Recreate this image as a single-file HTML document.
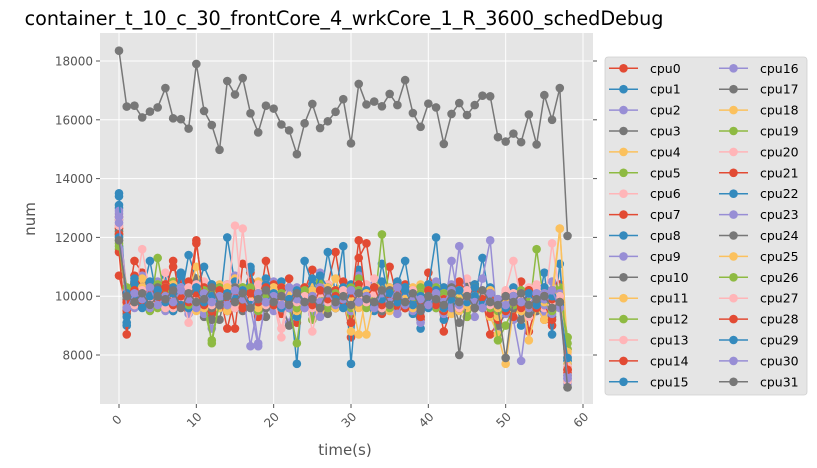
<!DOCTYPE html>
<html><head><meta charset="utf-8"><style>
body{margin:0;background:#fff;}
svg{display:block;font-family:"DejaVu Sans","Liberation Sans",sans-serif;}
</style></head><body>
<svg id="chart" width="817" height="468" xmlns="http://www.w3.org/2000/svg">
<text x="344" y="25" font-size="19.2" text-anchor="middle" fill="#000">container_t_10_c_30_frontCore_4_wrkCore_1_R_3600_schedDebug</text>
<rect x="100" y="33" width="493" height="371" fill="#E5E5E5"/>
<g id="grid"></g><g id="series"></g><g id="axes"></g>
<text x="345" y="455" font-size="15" text-anchor="middle" fill="#555">time(s)</text>
<text x="0" y="0" font-size="15" text-anchor="middle" fill="#555" transform="translate(35,219) rotate(-90)">num</text>
<rect x="605" y="57" width="202" height="338" rx="3" fill="#E5E5E5" stroke="#d0d0d0" stroke-width="0.8"/>
<g id="legend"></g>
</svg>
<script>
const NS="http://www.w3.org/2000/svg";
const colors=["#E24A33","#348ABD","#988ED5","#777777","#FBC15E","#8EBA42","#FFB5B8"];
const xTicks=[0,10,20,30,40,50,60];
const yTicks=[8000,10000,12000,14000,16000,18000];
const cpu17=[18350,16450,16480,16080,16280,16420,17080,16050,16020,15700,17900,16300,15820,14980,17320,16860,17420,16220,15570,16480,16380,15840,15640,14830,15880,16540,15720,15950,16270,16700,15200,17220,16520,16620,16460,16880,16500,17350,16230,15760,16550,16420,15180,16200,16570,16160,16500,16820,16800,15410,15260,15530,15240,16180,15160,16840,16000,17080,12050];
// other cpus, in hundreds
const others=[
[107,96,112,108,101,99,104,110,105,95,118,100,92,97,103,89,111,108,96,112,100,94,106,91,102,109,97,104,115,99,86,113,118,101,94,110,99,104,97,92,108,101,88,96,105,93,104,99,87,91,101,96,105,88,97,92,90,104,75],
[135,90,105,101,112,98,107,102,99,114,106,95,101,96,120,104,97,110,93,106,101,98,103,77,112,104,99,115,101,117,77,109,103,95,111,98,104,112,96,89,103,120,92,101,96,104,99,113,98,92,96,103,90,99,95,108,87,111,79],
[128,97,103,107,99,105,96,101,108,94,102,97,89,101,95,107,99,103,84,98,105,96,91,103,100,94,108,102,96,99,93,107,99,104,95,101,97,103,98,91,99,105,94,112,97,101,93,106,119,89,95,92,78,98,102,94,105,99,72],
[126,94,101,104,97,102,99,95,103,98,106,93,96,92,104,99,95,101,98,93,103,97,90,100,96,102,99,94,101,97,91,104,97,100,95,103,98,96,101,93,98,102,95,99,91,104,96,100,97,90,94,99,92,98,95,100,93,101,71],
[123,101,98,106,100,104,97,103,99,102,110,98,95,104,100,106,102,99,105,96,101,104,98,93,102,97,95,101,106,99,88,103,87,99,104,95,102,98,96,101,99,97,103,94,101,98,96,100,93,87,77,95,101,85,96,92,98,123,82],
[116,99,104,98,95,113,99,105,97,101,103,96,85,99,103,97,101,105,95,102,100,98,96,84,103,92,105,99,97,101,94,106,100,96,121,98,103,101,97,100,104,99,96,102,98,93,101,97,99,85,90,96,101,94,116,97,99,103,86],
[125,103,99,116,101,97,108,100,103,91,99,105,98,101,97,124,96,102,99,104,98,86,101,97,103,88,99,104,97,101,95,102,98,106,99,97,103,99,101,96,104,98,103,97,101,106,99,101,95,97,102,112,99,93,104,96,118,101,73],
[115,87,107,103,99,97,101,112,98,105,102,99,94,103,98,101,96,105,93,99,104,97,101,95,100,97,103,99,96,105,91,99,103,97,101,98,96,102,99,93,101,97,95,99,103,96,98,100,94,92,96,93,99,95,101,97,92,99,76],
[130,91,102,99,105,97,103,99,108,96,101,110,104,99,95,102,98,109,96,103,99,105,100,93,101,98,107,103,100,101,96,102,99,103,97,100,105,98,94,101,100,96,103,98,97,101,104,99,96,94,98,96,101,97,99,103,97,100,78],
[124,99,96,102,98,101,95,99,103,97,99,94,101,97,100,96,102,83,98,101,95,99,103,96,98,101,93,100,97,102,95,99,101,96,100,97,94,99,95,98,102,96,99,104,97,95,101,98,99,96,94,99,96,95,98,97,94,96,70],
[121,100,98,103,96,101,99,97,102,100,96,98,92,100,103,99,101,97,100,96,98,102,99,95,97,100,101,98,96,99,97,101,98,100,96,98,101,97,99,95,100,98,96,101,97,99,96,97,98,95,97,96,98,94,97,99,96,100,73],
[122,96,100,98,102,96,100,104,97,99,95,101,98,96,100,104,98,101,96,99,103,97,101,95,99,103,98,96,102,97,100,96,101,99,97,103,99,100,96,104,98,101,97,99,95,101,98,97,100,93,97,99,95,101,96,98,102,96,79],
[119,98,101,97,103,99,96,101,98,102,97,100,84,98,101,97,103,99,95,101,98,103,96,100,97,101,99,96,102,98,95,101,97,103,99,96,100,98,101,97,99,103,96,100,98,95,102,99,97,94,99,97,101,96,100,98,95,102,82],
[124,102,97,100,99,103,98,100,96,101,104,97,100,98,102,96,100,98,104,97,101,99,96,102,98,100,103,97,99,101,97,100,104,98,96,101,99,97,103,98,100,96,101,98,102,97,99,101,98,96,100,98,96,103,97,101,99,98,80],
[127,95,103,99,101,97,104,96,102,98,100,103,95,101,89,100,96,103,99,97,102,99,101,97,103,98,96,101,99,102,96,104,99,97,101,98,103,96,100,99,97,102,98,101,96,100,103,97,99,98,95,100,97,102,96,99,101,97,74],
[131,93,106,100,104,98,102,95,107,101,99,96,104,98,102,105,97,101,99,104,98,102,96,101,99,106,98,103,100,97,104,99,102,97,105,100,98,103,97,101,104,98,100,96,102,99,101,98,103,96,99,101,98,97,100,103,96,99,77],
[129,97,100,103,96,102,98,101,99,96,103,98,101,97,100,98,102,96,83,100,98,103,99,96,101,98,100,102,97,99,95,102,98,101,96,100,103,97,99,98,101,97,100,99,96,102,98,100,97,95,99,97,101,96,99,98,97,101,72],
[120,99,103,97,101,98,100,96,102,99,97,101,98,100,95,103,99,97,101,98,103,96,100,98,101,97,99,103,96,100,98,101,99,97,102,98,100,96,103,99,97,101,98,100,102,96,99,101,97,94,98,101,96,100,97,99,101,123,81],
[117,100,97,102,98,104,97,103,99,101,98,102,96,103,97,100,103,98,101,97,100,102,98,96,101,99,103,97,100,98,96,102,99,103,97,101,98,100,97,103,99,96,101,98,100,97,103,99,96,95,99,97,102,99,96,101,98,100,84],
[126,102,99,101,97,100,103,96,100,98,102,96,99,101,104,98,123,100,97,102,99,89,101,98,96,100,102,98,101,97,100,99,103,97,100,98,102,96,99,101,98,100,96,102,97,101,99,98,100,96,98,101,97,99,102,98,96,99,71],
[123,98,101,99,103,97,101,99,97,102,119,98,100,97,101,99,96,102,98,100,97,103,99,96,101,98,100,97,102,99,97,119,98,101,97,100,103,96,99,101,97,100,98,102,96,99,101,97,100,96,98,100,97,101,96,99,102,98,75],
[134,96,104,98,102,100,97,103,99,96,101,98,103,97,102,99,101,97,100,103,98,101,96,100,99,102,97,101,98,103,97,100,102,98,101,97,99,103,98,100,96,102,99,97,101,98,103,96,100,97,99,98,101,97,100,98,99,97,78],
[127,101,98,100,102,97,101,98,103,99,100,97,102,98,100,96,101,99,97,102,98,100,96,101,99,97,103,98,100,97,101,99,98,102,97,100,98,101,97,99,102,98,100,96,117,98,100,97,101,96,99,98,100,99,97,101,98,99,73],
[122,99,102,98,100,103,98,101,97,100,102,99,96,101,98,103,97,100,99,96,101,98,102,97,100,98,101,99,96,102,98,101,99,97,100,102,98,96,101,99,97,100,98,103,80,100,97,101,98,96,79,99,97,101,98,100,97,99,69],
[121,97,100,103,98,101,99,97,102,98,101,96,100,98,103,97,101,99,96,100,102,98,101,97,99,102,98,100,96,101,99,87,101,98,100,97,102,99,96,101,98,100,97,99,101,97,100,98,102,96,99,98,101,97,100,98,96,99,77],
[118,103,98,101,99,96,102,98,100,97,101,99,102,98,97,101,99,103,98,100,97,101,98,96,102,99,100,97,101,98,103,99,96,101,98,100,102,97,99,101,98,97,100,102,98,99,96,101,98,97,100,99,97,98,101,99,96,100,86],
[124,100,97,102,98,100,96,101,99,103,98,100,97,101,99,96,102,98,100,97,101,99,103,98,100,96,101,98,99,102,97,100,98,101,96,100,99,97,102,98,101,97,99,100,96,102,98,100,97,99,101,98,100,97,103,99,97,100,76],
[121,98,102,97,101,99,103,97,100,98,101,97,99,102,98,100,96,101,98,103,97,100,99,101,98,97,102,99,100,97,101,98,100,103,97,99,101,96,100,98,102,97,99,101,98,100,96,99,101,97,100,98,96,102,98,100,99,98,75],
[120,101,99,96,100,102,98,101,97,99,103,98,100,97,101,99,102,97,100,98,101,96,99,102,98,100,97,101,99,96,102,98,100,97,99,101,98,102,97,100,98,101,96,99,102,98,100,97,101,99,96,100,98,101,97,99,100,97,79],
[125,96,101,99,103,97,100,98,102,99,96,101,98,100,97,102,99,96,101,98,100,97,103,99,96,100,98,101,97,99,102,98,100,96,101,98,103,97,100,99,97,101,98,102,97,100,98,96,101,99,97,100,98,97,101,99,102,96,72],
[119,100,98,101,97,100,99,102,96,101,98,99,103,97,100,98,101,96,99,102,98,100,97,101,98,99,96,102,98,100,97,101,99,98,102,97,100,98,101,96,100,99,97,101,98,100,96,102,98,97,100,98,101,97,99,100,96,98,69]
];
const X0=100,X1=593,Y0=33,Y1=404;
function xs(v){return 119+(v-0)*(583-119)/60;}
function ys(v){return 355-(v-8000)*(355-61)/10000;}
function mk(tag,attrs,parent){const e=document.createElementNS(NS,tag);for(const k in attrs)e.setAttribute(k,attrs[k]);parent.appendChild(e);return e;}
const grid=document.getElementById('grid'),axes=document.getElementById('axes'),ser=document.getElementById('series'),leg=document.getElementById('legend');
xTicks.forEach(t=>{const x=xs(t);
 const g=mk('line',{x1:x,x2:x,y1:Y0,y2:Y1,stroke:'#fff','stroke-width':1},grid);
 
 mk('line',{x1:x,x2:x,y1:Y1,y2:Y1+4,stroke:'#555'},axes);
 const tx=mk('text',{x:x-2,y:Y1+20,'font-size':12,fill:'#555','text-anchor':'middle',transform:`rotate(-45 ${x-2} ${Y1+16})`},axes);
 tx.textContent=t;
 
});
yTicks.forEach(t=>{const y=ys(t);
 const g=mk('line',{x1:X0,x2:X1,y1:y,y2:y,stroke:'#fff','stroke-width':1},grid);
 
 mk('line',{x1:X0-4,x2:X0,y1:y,y2:y,stroke:'#555'},axes);
 mk('line',{x1:X1,x2:X1+4,y1:y,y2:y,stroke:'#555'},axes);
 const tx=mk('text',{x:X0-7,y:y+4.5,'font-size':12,fill:'#555','text-anchor':'end'},axes);
 tx.textContent=t;
 
});
const all=[];
for(let i=0,k=0;i<32;i++){ if(i===17) all.push(cpu17); else all.push(others[k++].map(v=>v*100)); }
function drawSeries(i){
 const vals=all[i],c=colors[i%7];
 const g=mk('g',{},ser);
 
 
 mk('polyline',{points:vals.map((v,j)=>xs(j)+','+ys(v)).join(' '),fill:'none',stroke:c,'stroke-width':1.5},g);
 vals.forEach((v,j)=>{const p=mk('circle',{cx:xs(j),cy:ys(v),r:4.3,fill:c},g);
  });
}
for(let i=0;i<32;i++) if(i!==17) drawSeries(i);
drawSeries(17);
for(let i=0;i<32;i++){
 const col=Math.floor(i/16),row=i%16,c=colors[i%7];
 const lx=col?719:609,tx=col?760:650,y=68.3+row*20.9;
 const g=mk('g',{},leg);
 
 
 mk('line',{x1:lx,x2:lx+29,y1:y,y2:y,stroke:c,'stroke-width':1.5},g);
 mk('circle',{cx:lx+14.5,cy:y,r:4.3,fill:c},g);
 const t=mk('text',{x:tx,y:y+4.5,'font-size':12.5,fill:'#000'},g);
 t.textContent='cpu'+i;
}
</script>
</body></html>
